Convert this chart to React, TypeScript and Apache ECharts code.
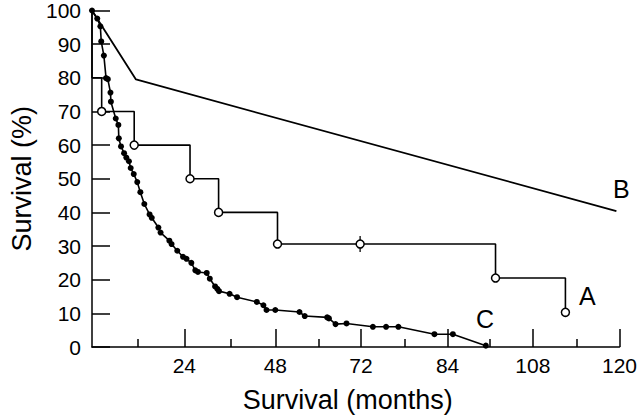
import React, { useEffect, useRef } from "react";
import * as echarts from "echarts";

// Tick positions (in plotted units) and their printed labels
const xTickPositions = [21, 41.7, 61.2, 80.9, 100.3, 120];
const xTickLabels = ["24", "48", "72", "84", "108", "120"];
const xMinorTickPositions = [10.5, 31.5, 51.5, 71.1, 90.6, 110.2];

// Curve B
const bX = [0, 10, 119.3];
const bY = [100, 79.5, 40.4];

// Curve A (step function); marker: "none" | "circle" | "censor"
const aX = [0, 0, 2.2, 9.6, 22.3, 28.8, 42.2, 61, 91.8, 107.7];
const aY = [100, 80, 70, 60, 50, 40, 30.6, 30.6, 20.5, 10.3];
const aMarker = ["none", "none", "circle", "circle", "circle", "circle", "circle", "censor", "circle", "circle"];

// Curve C
const cX = [0, 1.2, 1.9, 2.1, 2.7, 3.2, 3.6, 4.2, 4.3, 5.4, 6.0, 6.1, 6.6, 7.3, 7.8, 8.4, 8.8, 9.5, 10.3, 11.0, 11.9, 13.1, 13.6, 15.1, 15.6, 17.6, 18.1, 19.4, 20.7, 21.5, 22.6, 23.5, 24.1, 26.1, 26.8, 28.0, 28.5, 28.9, 31.3, 33.0, 37.5, 39.0, 39.7, 41.7, 47.2, 48.4, 53.5, 53.9, 55.4, 57.9, 63.9, 66.9, 69.7, 77.9, 82.1, 89.6];
const cY = [100, 97.6, 95.3, 90.8, 86.6, 79.9, 79.6, 75.6, 72.9, 67.9, 66.0, 62.0, 59.6, 57.6, 56.3, 55.2, 53.2, 51.4, 49.0, 46.0, 42.5, 39.4, 38.4, 35.5, 34.0, 31.6, 30.6, 28.6, 26.8, 26.2, 25.0, 22.8, 22.3, 22.0, 20.3, 18.0, 17.3, 16.6, 15.8, 14.8, 13.4, 12.4, 11.0, 11.0, 10.4, 9.2, 8.8, 8.5, 6.8, 7.0, 6.0, 6.0, 6.0, 3.8, 3.8, 0.4];

const FONT = "'Liberation Sans', Arial, Helvetica, sans-serif";
const INK = "#000";

export default function App() {
  const ref = useRef<HTMLDivElement>(null);
  useEffect(() => {
    if (!ref.current) return;
    const chart = echarts.init(ref.current, undefined, { renderer: "svg" });

    const aLine = aX.map((x, i) => {
      const m = aMarker[i];
      if (m === "none") return { value: [x, aY[i]], symbol: "none" };
      return { value: [x, aY[i]], symbol: "circle" };
    });
    const censor = aX
      .map((x, i) => (aMarker[i] === "censor" ? [x, aY[i]] : null))
      .filter((d) => d !== null);

    chart.setOption({
      animation: false,
      backgroundColor: "#fff",
      grid: { left: 84, right: 19, top: 8, bottom: 71, containLabel: false },
      xAxis: [
        {
          type: "value",
          min: 0,
          max: 120,
          position: "bottom",
          name: "Survival (months)",
          nameLocation: "middle",
          nameGap: 39,
          nameTextStyle: { fontFamily: FONT, fontSize: 27, color: INK, padding: [0, 16, 0, 0] },
          axisLine: { show: true, lineStyle: { color: INK, width: 1.5 } },
          axisTick: {
            show: true,
            inside: true,
            length: 18,
            customValues: xTickPositions,
            lineStyle: { color: INK, width: 1.5 },
          },
          axisLabel: {
            show: true,
            customValues: xTickPositions,
            margin: 8,
            fontFamily: FONT,
            fontSize: 21,
            color: INK,
            formatter: (v: number) => {
              let best = 0;
              for (let i = 1; i < xTickPositions.length; i++) {
                if (Math.abs(xTickPositions[i] - v) < Math.abs(xTickPositions[best] - v)) best = i;
              }
              return xTickLabels[best];
            },
          },
          splitLine: { show: false },
        },
        {
          type: "value",
          min: 0,
          max: 120,
          position: "bottom",
          axisLine: { show: false },
          axisTick: {
            show: true,
            inside: true,
            length: 8,
            customValues: xMinorTickPositions,
            lineStyle: { color: INK, width: 1.5 },
          },
          axisLabel: { show: false },
          splitLine: { show: false },
        },
      ],
      yAxis: {
        type: "value",
        min: 0,
        max: 100,
        interval: 10,
        name: "Survival (%)",
        nameLocation: "middle",
        nameGap: 57,
        nameTextStyle: { fontFamily: FONT, fontSize: 27, color: INK },
        axisLine: { show: true, lineStyle: { color: INK, width: 1.5 } },
        axisTick: { show: true, inside: true, length: 18, lineStyle: { color: INK, width: 1.5 } },
        axisLabel: { margin: 11, fontFamily: FONT, fontSize: 21, color: INK },
        splitLine: { show: false },
      },
      series: [
        {
          name: "B",
          type: "line",
          data: bX.map((x, i) => [x, bY[i]]),
          showSymbol: false,
          symbol: "none",
          clip: false,
          lineStyle: { color: INK, width: 1.8 },
        },
        {
          name: "A censor",
          type: "scatter",
          data: censor,
          symbol: "rect",
          symbolSize: [1.6, 16],
          clip: false,
          itemStyle: { color: INK },
          z: 2,
        },
        {
          name: "A",
          type: "line",
          step: "end",
          data: aLine,
          symbolSize: 8,
          clip: false,
          lineStyle: { color: INK, width: 1.6 },
          itemStyle: { color: "#fff", borderColor: INK, borderWidth: 1.5 },
          z: 3,
        },
        {
          name: "C",
          type: "line",
          data: cX.map((x, i) => [x, cY[i]]),
          symbol: "circle",
          symbolSize: 6,
          showSymbol: true,
          clip: false,
          lineStyle: { color: INK, width: 1.6 },
          itemStyle: { color: INK },
          z: 4,
        },
      ],
      graphic: [
        { type: "text", left: 613, top: 176, style: { text: "B", font: `25px ${FONT}`, fill: INK } },
        { type: "text", left: 579, top: 283, style: { text: "A", font: `25px ${FONT}`, fill: INK } },
        { type: "text", left: 476, top: 306, style: { text: "C", font: `25px ${FONT}`, fill: INK } },
      ],
    });
    return () => chart.dispose();
  }, []);
  return (
    <div
      ref={ref}
      style={{ position: "fixed", left: 0, top: 0, width: 640, height: 418, background: "#fff" }}
    />
  );
}
